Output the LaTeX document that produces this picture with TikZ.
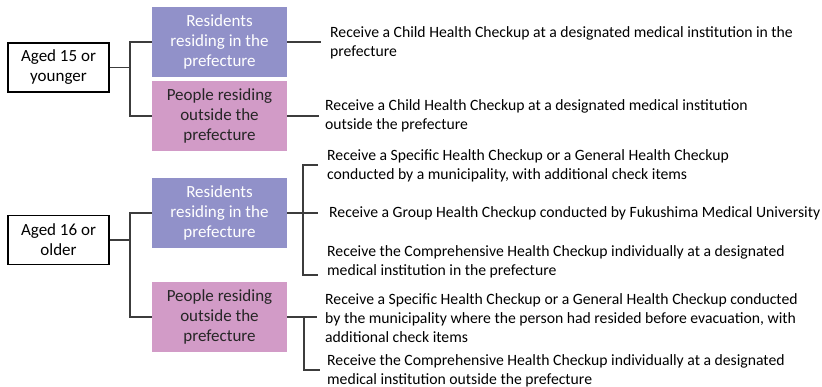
\documentclass[tikz,border=0pt]{standalone}
\usepackage{fontspec}
\setmainfont{Carlito}
\definecolor{boxblue}{HTML}{9191C9}
\definecolor{boxpink}{HTML}{D29BC7}
\definecolor{lin}{HTML}{3C3C3C}
\begin{document}
\begin{tikzpicture}[x=1pt,y=-1pt,
  agebox/.style={draw=black,line width=1.2pt,fill=white,minimum width=101pt,minimum height=49pt,inner sep=0pt,align=center,font=\fontsize{17}{20}\selectfont},
  resbox/.style={fill=boxblue,minimum width=135pt,minimum height=70pt,inner sep=0pt,align=center,text=white,font=\fontsize{17}{20}\selectfont},
  outbox/.style={fill=boxpink,minimum width=135pt,minimum height=70pt,inner sep=0pt,align=center,text=black!85,font=\fontsize{17}{20}\selectfont},
  desc/.style={anchor=west,inner sep=0pt,align=left,text=black,font=\fontsize{15.7}{19.3}\selectfont},
  conn/.style={draw=lin,line width=1.2pt}]
\useasboundingbox (0,0) rectangle (822,387);
% left boxes
\node[agebox] (a15) at (58.5,67.5) {Aged 15 or\\younger};
\node[agebox] (a16) at (58.5,240) {Aged 16 or\\older};
% middle boxes
\node[resbox] (b1) at (219.5,42) {Residents\\residing in the\\prefecture};
\node[outbox] (p1) at (219.5,116) {People residing\\outside the\\prefecture};
\node[resbox] (b2) at (219.5,213) {Residents\\residing in the\\prefecture};
\node[outbox] (p2) at (219.5,317) {People residing\\outside the\\prefecture};
% descriptions
\node[desc] (t1) at (330,42.5) {Receive a Child Health Checkup at a designated medical institution in the\\prefecture};
\node[desc] (t2) at (325,116) {Receive a Child Health Checkup at a designated medical institution\\outside the prefecture};
\node[desc] (t3) at (327,165.5) {Receive a Specific Health Checkup or a General Health Checkup\\conducted by a municipality, with additional check items};
\node[desc] (t4) at (329,213) {Receive a Group Health Checkup conducted by Fukushima Medical University};
\node[desc] (t5) at (327,261.5) {Receive the Comprehensive Health Checkup individually at a designated\\medical institution in the prefecture};
\node[desc] (t6) at (325,318) {Receive a Specific Health Checkup or a General Health Checkup conducted\\by the municipality where the person had resided before evacuation, with\\additional check items};
\node[desc] (t7) at (327,370.5) {Receive the Comprehensive Health Checkup individually at a designated\\medical institution outside the prefecture};
% junctions
\coordinate (j1) at (130,67.5);
\coordinate (j2) at (130,240);
\coordinate (e1) at (321,42);
\coordinate (e2) at (319,116);
\coordinate (k1) at (318,165);
\coordinate (v1) at (303,213);
\coordinate (k3) at (318,213);
\coordinate (k2) at (318,275);
\coordinate (m1) at (317,317);
\coordinate (v2) at (304,317);
\coordinate (m2) at (320,370);
% connectors
\draw[conn] (a15.east) -- (j1);
\draw[conn] (b1.west) -| (j1) |- (p1.west);
\draw[conn] (a16.east) -- (j2);
\draw[conn] (b2.west) -| (j2) |- (p2.west);
\draw[conn] (b1.east) -- (e1);
\draw[conn] (p1.east) -- (e2);
\draw[conn] (b2.east) -- (k3);
\draw[conn] (k1) -| (v1) |- (k2);
\draw[conn] (p2.east) -- (m1);
\draw[conn] (v2) |- (m2);
\end{tikzpicture}
\end{document}
